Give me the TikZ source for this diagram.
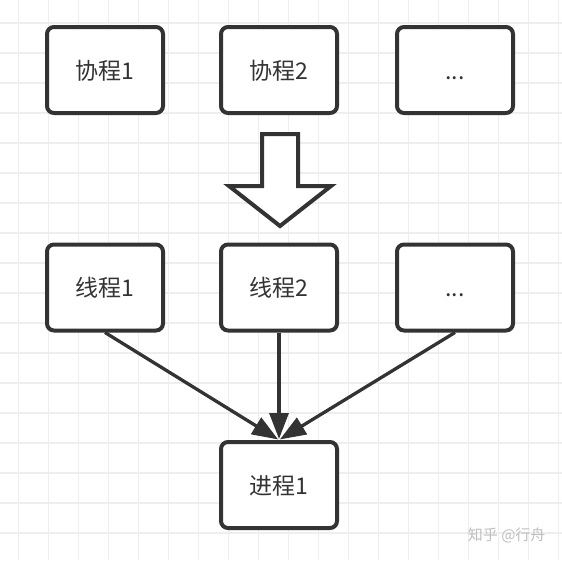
\documentclass[tikz,border=0pt]{standalone}
\usepackage{fontspec}
\setmainfont{Noto Sans CJK SC}
\usetikzlibrary{arrows.meta}
\definecolor{ink}{HTML}{333333}
\definecolor{gridc}{HTML}{EEEEEE}
\begin{document}
\begin{tikzpicture}[x=1pt,y=-1pt,
  box/.style={draw=ink,line width=4pt,rounded corners=7pt,fill=white,
    minimum width=116pt,minimum height=86pt,inner sep=0pt,
    text height=19pt,text depth=1pt,
    font=\fontsize{23}{26}\selectfont,text=ink},
  conn/.style={draw=ink,line width=3.3pt,-{Triangle[length=26pt,width=19pt]},shorten >=1pt},
  bigarrow/.style={draw=ink,line width=4pt,fill=white,line join=miter}]
\useasboundingbox (0,0) rectangle (562,560);
\fill[white] (0,0) rectangle (562,560);
\foreach \x in {18.5,48.5,...,560}{\draw[gridc,line width=1.6pt] (\x,0) -- (\x,560);}
\foreach \y in {22.7,52.7,...,560}{\draw[gridc,line width=1.6pt] (0,\y) -- (562,\y);}
\node[box] (c1) at (105,70) {协程1};
\node[box] (c2) at (279,70) {协程2};
\node[box] (c3) at (455,70) {...};
\node[box] (t1) at (105,287.5) {线程1};
\node[box] (t2) at (279,287.5) {线程2};
\node[box] (t3) at (455,287.5) {...};
\node[box] (p1) at (279,485) {进程1};
\draw[bigarrow] (262,134) -- (298,134) -- (298,186) -- (331,186) -- (280,226) -- (229,186) -- (262,186) -- cycle;
\draw[conn] (t1.south) -- (p1.north);
\draw[conn] (t2.south) -- (p1.north);
\draw[conn] (t3.south) -- (p1.north);
\node[text=gray!50,font=\fontsize{15}{17}\selectfont,anchor=east] (wm) at (549,535) {知乎 @行舟};
\end{tikzpicture}
\end{document}
